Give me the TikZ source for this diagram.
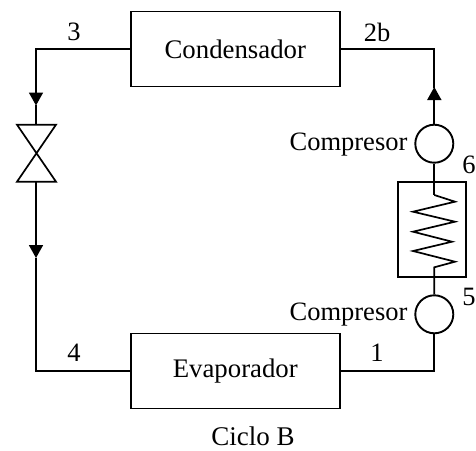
\documentclass[tikz,border=0pt]{standalone}
\usepackage{fontspec}
\setmainfont{Liberation Serif}
\usetikzlibrary{arrows.meta}
\tikzset{
  pipe/.style={line width=1.7pt,black},
  flow/.style={pipe,-{Triangle[length=13pt,width=14pt]},shorten >=-0.5pt},
  unitbox/.style={draw,line width=1.9pt,minimum width=209pt,minimum height=75pt,inner sep=0pt,font=\fontsize{26.8}{30}\selectfont},
  compbox/.style={draw,circle,line width=1.9pt,minimum size=38pt,inner sep=0pt},
  txt/.style={inner sep=0pt,font=\fontsize{26.5}{30}\selectfont}
}
\begin{document}
\begin{tikzpicture}[x=1pt,y=-1pt]
\useasboundingbox (0,0) rectangle (476,450);
\node[unitbox] (cond) at (235.3,49) {Condensador};
\node[unitbox] (evap) at (235.3,371) {Evaporador};
\node[compbox] (c1) at (434.3,143.7) {};
\node[compbox] (c2) at (434.3,314.3) {};
\node[draw,line width=1.9pt,minimum width=68pt,minimum height=95pt,inner sep=0pt] (hx) at (431.7,229.2) {};
\coordinate (tl) at (36,49);
\coordinate (tr) at (434.3,49);
\coordinate (bl) at (36,371);
\coordinate (br) at (434.3,371);
\coordinate (a1) at (36,105);
\coordinate (a2) at (36,257.5);
\coordinate (a3) at (434.3,87.5);
\coordinate (vt) at (36,124.7);
\coordinate (vb) at (36,181.7);
\coordinate (coilin) at (434.3,195);
\coordinate (coilout) at (434.3,267.3);
% top and left pipes
\draw[pipe] (cond.west) -- (tl) -- (36,90);
\draw[flow] (36,90) -- (a1);
\draw[pipe] (a1) -- (vt);
\draw[line width=1.7pt,line join=miter] (17,124.7) -- (56,124.7) -- (17,181.7) -- (56,181.7) -- cycle;
\draw[pipe] (vb) -- (36,240);
\draw[flow] (36,240) -- (a2);
\draw[pipe] (a2) -- (bl) -- (evap.west);
% right pipes
\draw[pipe] (cond.east) -- (tr) -- (a3);
\draw[flow] (c1.north) -- (a3);
\draw[pipe] (c1.south) -- (coilin);
\draw[pipe,line join=miter] (coilin) -- (455,201.7) -- (413,211.7) -- (455,221.7) -- (413,231.7) -- (452,241.7) -- (413,251) -- (455,261.7) -- (coilout) -- (c2.north);
\draw[pipe] (c2.south) -- (br) -- (evap.east);
% labels
\node[txt] (l3) at (74,32) {3};
\node[txt] (l2b) at (377,32) {2b};
\node[txt] (l4) at (74,353) {4};
\node[txt] (l1) at (377,353) {1};
\node[txt] (l6) at (469,165) {6};
\node[txt] (l5) at (469,297) {5};
\node[txt] (k1) at (348.5,145) {Compresor};
\node[txt] (k2) at (348.5,315) {Compresor};
\node[txt,font=\fontsize{27}{30}\selectfont] (title) at (253,436) {Ciclo B};
\end{tikzpicture}
\end{document}
